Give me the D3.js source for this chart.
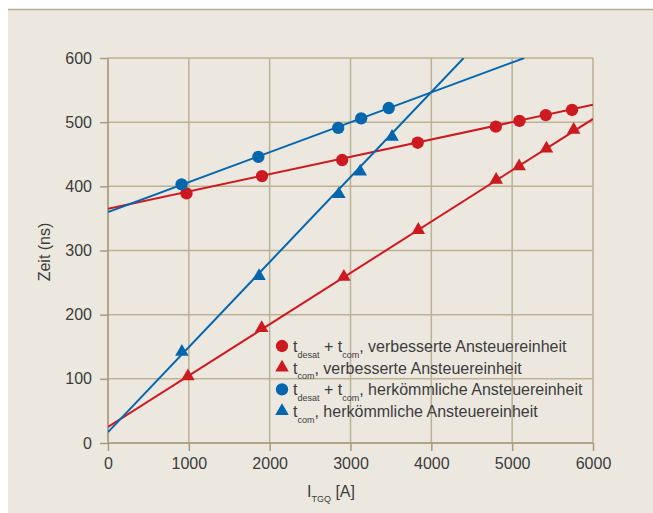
<!DOCTYPE html>
<html>
<head>
<meta charset="utf-8">
<script src="https://cdn.jsdelivr.net/npm/d3@7"></script>
<style>
  body { margin: 0; background: #fff; }
  text { font-family: "Liberation Sans", Arial, sans-serif; fill: #3c3c3c; }
</style>
</head>
<body>
<svg id="chart" width="653" height="513"></svg>
<script>
// values: current [A] -> time [ns]
var xTicks = [0, 1000, 2000, 3000, 4000, 5000, 6000]
var yTicks = [0, 100, 200, 300, 400, 500, 600]

var improvedTotalI = [971, 1905, 2897, 3831, 4798, 5090, 5416, 5741]
var improvedTotalT = [389, 416, 441, 468, 493, 502, 511, 519]
var improvedComI = [988, 1901, 2918, 3839, 4802, 5086, 5424, 5761]
var improvedComT = [104, 179, 259, 332, 410, 431, 459, 488]
var classicTotalI = [910, 1860, 2848, 3132, 3473]
var classicTotalT = [403, 446, 491, 506, 522]
var classicComI = [914, 1868, 2856, 3120, 3514]
var classicComT = [142, 260, 388, 423, 477]

// fitted straight lines, two ends each
var improvedTotalFit = [[0, 365], [6000, 527]]
var improvedComFit = [[0, 25], [6000, 505]]
var classicTotalFit = [[0, 360], [5150, 600]]
var classicComFit = [[0, 17], [4400, 600]]

var red = '#cc1a20', blue = '#0467ad'

var series = [
  { xs: improvedTotalI, ys: improvedTotalT, fit: improvedTotalFit, color: red, shape: d3.symbolCircle,
    label: [['t', 0], ['desat', 1], [' + t', 0], ['com', 1], [', verbesserte Ansteuereinheit', 0]] },
  { xs: improvedComI, ys: improvedComT, fit: improvedComFit, color: red, shape: d3.symbolTriangle,
    label: [['t', 0], ['com', 1], [', verbesserte Ansteuereinheit', 0]] },
  { xs: classicTotalI, ys: classicTotalT, fit: classicTotalFit, color: blue, shape: d3.symbolCircle,
    label: [['t', 0], ['desat', 1], [' + t', 0], ['com', 1], [', herkömmliche Ansteuereinheit', 0]] },
  { xs: classicComI, ys: classicComT, fit: classicComFit, color: blue, shape: d3.symbolTriangle,
    label: [['t', 0], ['com', 1], [', herkömmliche Ansteuereinheit', 0]] },
]

var svg = d3.select('#chart')
// panel
svg.append('rect').attr('x', 8).attr('y', 9).attr('width', 653).attr('height', 513).attr('fill', '#ece8e0')
svg.append('line').attr('x1', 8).attr('x2', 653).attr('y1', 9.5).attr('y2', 9.5)
    .attr('stroke', '#b8ad92').attr('stroke-width', 1.5)

var margin = { left: 108, top: 58, right: 593, bottom: 443 }
var x = d3.scaleLinear().domain([0, 6000]).range([margin.left, margin.right])
var y = d3.scaleLinear().domain([0, 600]).range([margin.bottom, margin.top])

var gridColor = '#bcb193'
var grid = svg.append('g')
grid.selectAll('.gx').data(xTicks).enter().append('line')
    .attr('x1', d => x(d)).attr('x2', d => x(d))
    .attr('y1', y(600)).attr('y2', y(0))
    .attr('stroke', gridColor).attr('stroke-width', 1.5)
grid.selectAll('.gy').data(yTicks).enter().append('line')
    .attr('x1', x(0)).attr('x2', x(6000))
    .attr('y1', d => y(d)).attr('y2', d => y(d))
    .attr('stroke', gridColor).attr('stroke-width', 1.5)

// axes
var xAxis = svg.append('g').attr('transform', 'translate(0,' + y(0) + ')')
    .call(d3.axisBottom(x).tickValues(xTicks).tickSize(8).tickPadding(7).tickFormat(d3.format('d')))
var yAxis = svg.append('g').attr('transform', 'translate(' + x(0) + ',0)')
    .call(d3.axisLeft(y).tickValues(yTicks).tickSize(8).tickPadding(8).tickFormat(d3.format('d')))
;[xAxis, yAxis].forEach(a => {
  a.select('.domain').remove()
  a.selectAll('line').attr('stroke', '#a89c7d').attr('stroke-width', 1.5)
  a.selectAll('text').attr('font-size', 16).attr('fill', '#3c3c3c')
      .style('font-family', '"Liberation Sans", Arial, sans-serif')
})
svg.append('line').attr('x1', x(0)).attr('x2', x(6000)).attr('y1', y(0)).attr('y2', y(0))
    .attr('stroke', '#a89c7d').attr('stroke-width', 1.5)
svg.append('line').attr('x1', x(0)).attr('x2', x(0)).attr('y1', y(0)).attr('y2', y(600))
    .attr('stroke', '#a89c7d').attr('stroke-width', 1.5)

// axis titles
var xt = svg.append('text').attr('x', 307).attr('y', 497).attr('font-size', 16)
xt.append('tspan').text('I')
xt.append('tspan').attr('font-size', 9).attr('dy', 5).text('TGQ')
xt.append('tspan').attr('dy', -5).text(' [A]')
svg.append('text').attr('transform', 'translate(50,252) rotate(-90)')
    .attr('text-anchor', 'middle').attr('font-size', 16).text('Zeit (ns)')

// data
svg.append('clipPath').attr('id', 'plot').append('rect')
    .attr('x', x(0)).attr('y', y(600)).attr('width', x(6000) - x(0)).attr('height', y(0) - y(600))
var line = d3.line().x(d => x(d[0])).y(d => y(d[1]))
var plot = svg.append('g').attr('clip-path', 'url(#plot)')
series.forEach(s => {
  plot.append('path').attr('d', line(s.fit)).attr('fill', 'none')
      .attr('stroke', s.color).attr('stroke-width', 2)
  var sym = d3.symbol().type(s.shape).size(s.shape === d3.symbolCircle ? 120 : 80)
  svg.append('g').selectAll('path').data(s.xs).enter().append('path')
      .attr('d', sym)
      .attr('transform', (d, i) => 'translate(' + x(d) + ',' + y(s.ys[i]) + ')')
      .attr('fill', s.color)
})

// legend
var legend = svg.append('g').attr('transform', 'translate(282,346)')
series.forEach((s, i) => {
  var row = legend.append('g').attr('transform', 'translate(0,' + (i * 21.7) + ')')
  row.append('path').attr('d', d3.symbol().type(s.shape).size(s.shape === d3.symbolCircle ? 120 : 80))
      .attr('fill', s.color)
  var t = row.append('text').attr('x', 11).attr('y', 6).attr('font-size', 16)
  var sub = 0
  s.label.forEach(p => {
    var shift = p[1] - sub
    t.append('tspan').attr('font-size', p[1] ? 9 : 16).attr('dy', shift * 5.5).text(p[0])
    sub = p[1]
  })
})
</script>
</body>
</html>
